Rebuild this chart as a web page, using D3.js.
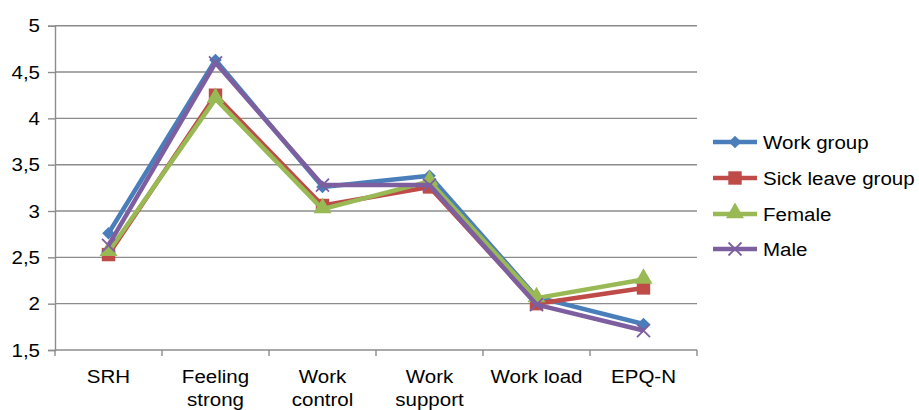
<!DOCTYPE html>
<html>
<head>
<meta charset="utf-8">
<script src="https://cdn.jsdelivr.net/npm/d3@7"></script>
<style>
  body { margin: 0; background: #fff; }
  text { font-family: "Liberation Sans", Arial, sans-serif; fill: #000; }
</style>
</head>
<body>
<div id="container"></div>
<script>
// values
var categories = ["SRH", "Feeling strong", "Work control", "Work support", "Work load", "EPQ-N"];
var categoryLines = [["SRH"], ["Feeling", "strong"], ["Work", "control"], ["Work", "support"], ["Work load"], ["EPQ-N"]];
var workGroup = [2.76, 4.63, 3.26, 3.38, 2.07, 1.78];
var sickLeave = [2.53, 4.25, 3.06, 3.26, 2.0, 2.17];
var female = [2.56, 4.21, 3.02, 3.32, 2.06, 2.26];
var male = [2.63, 4.6, 3.28, 3.28, 1.99, 1.71];
var seriesNames = ["Work group", "Sick leave group", "Female", "Male"];
var yTicks = [1.5, 2, 2.5, 3, 3.5, 4, 4.5, 5];

var colors = ["#4a7ebb", "#be4b48", "#98b954", "#7d5fa0"];
var symbols = ["diamond", "square", "triangle", "cross"];
var allSeries = [workGroup, sickLeave, female, male];

var width = 919, height = 410;
var plotLeft = 55, plotRight = 697, plotTop = 25.7, plotBottom = 350;
var fontSize = "19px";
var stretch = 1.08; // glyphs in the reference are a bit wider than tall

var svg = d3.select("#container").append("svg")
  .attr("width", width)
  .attr("height", height);

var x = d3.scaleBand().domain(categories).range([plotLeft, plotRight]);
var y = d3.scaleLinear().domain([1.5, 5]).range([plotBottom, plotTop]);
var fmt = function (v) { return String(v).replace(".", ","); };

// text placed at (tx, ty), stretched horizontally around its anchor
function addText(parent, tx, ty, anchor) {
  return parent.append("text")
    .attr("transform", "translate(" + tx + "," + ty + ") scale(" + stretch + ",1)")
    .attr("text-anchor", anchor)
    .style("font-size", fontSize);
}

// gridlines
svg.append("g")
  .selectAll("line")
  .data(yTicks.slice(1))
  .enter()
  .append("line")
  .attr("x1", plotLeft)
  .attr("x2", plotRight)
  .attr("y1", (d) => y(d))
  .attr("y2", (d) => y(d))
  .attr("stroke", "#8c8c8c")
  .attr("stroke-width", 1.4);

// y axis
var yAxis = d3.axisLeft(y).tickValues(yTicks).tickFormat("").tickSize(7);
var yAxisG = svg.append("g")
  .attr("transform", "translate(" + plotLeft + ",0)")
  .call(yAxis);
yAxisG.select(".domain").attr("stroke", "#8c8c8c").attr("stroke-width", 1.4);
yAxisG.selectAll(".tick line").attr("stroke", "#8c8c8c").attr("stroke-width", 1.4);
yTicks.forEach(function (t) {
  addText(svg, plotLeft - 15, y(t) + 6.5, "end").text(fmt(t));
});

// x axis
var xAxisG = svg.append("g");
xAxisG.append("line")
  .attr("x1", plotLeft).attr("x2", plotRight)
  .attr("y1", plotBottom).attr("y2", plotBottom)
  .attr("stroke", "#8c8c8c").attr("stroke-width", 1.4);
var boundaries = categories.map((c) => x(c)).concat([x(categories[categories.length - 1]) + x.bandwidth()]);
xAxisG.selectAll(".xt")
  .data(boundaries)
  .enter()
  .append("line")
  .attr("class", "xt")
  .attr("x1", (d) => d).attr("x2", (d) => d)
  .attr("y1", plotBottom).attr("y2", plotBottom + 6)
  .attr("stroke", "#8c8c8c").attr("stroke-width", 1.4);

categories.forEach(function (c, i) {
  var t = addText(xAxisG, x(c) + x.bandwidth() / 2, 383, "middle");
  categoryLines[i].forEach(function (ln, j) {
    t.append("tspan")
      .attr("x", 0)
      .attr("dy", j === 0 ? 0 : 23)
      .text(ln);
  });
});

// series
var line = d3.line()
  .x((d, i) => x(categories[i]) + x.bandwidth() / 2)
  .y((d) => y(d));

function drawMarker(g, kind, color, cx, cy) {
  if (kind === "diamond") {
    g.append("path")
      .attr("d", d3.symbol().type(d3.symbolSquare).size(80)())
      .attr("transform", "translate(" + cx + "," + cy + ") rotate(45)")
      .attr("fill", color);
  } else if (kind === "square") {
    g.append("path")
      .attr("d", d3.symbol().type(d3.symbolSquare).size(180)())
      .attr("transform", "translate(" + cx + "," + cy + ")")
      .attr("fill", color);
  } else if (kind === "triangle") {
    g.append("path")
      .attr("d", d3.symbol().type(d3.symbolTriangle).size(140)())
      .attr("transform", "translate(" + cx + "," + (cy - 1) + ")")
      .attr("fill", color);
  } else {
    g.append("path")
      .attr("d", "M-6.5,-6.5L6.5,6.5M-6.5,6.5L6.5,-6.5")
      .attr("transform", "translate(" + cx + "," + cy + ")")
      .attr("stroke", color)
      .attr("stroke-width", 1.8)
      .attr("fill", "none");
  }
}

allSeries.forEach(function (vals, s) {
  var g = svg.append("g");
  g.append("path")
    .datum(vals)
    .attr("d", line)
    .attr("fill", "none")
    .attr("stroke", colors[s])
    .attr("stroke-width", 4.5)
    .attr("stroke-linejoin", "round");
  vals.forEach(function (v, i) {
    drawMarker(g, symbols[s], colors[s], x(categories[i]) + x.bandwidth() / 2, y(v));
  });
});

// legend
var legendY = [142, 178, 214, 249];
seriesNames.forEach(function (name, s) {
  var g = svg.append("g");
  g.append("line")
    .attr("x1", 713).attr("x2", 757)
    .attr("y1", legendY[s]).attr("y2", legendY[s])
    .attr("stroke", colors[s]).attr("stroke-width", 4.5);
  drawMarker(g, symbols[s], colors[s], 735, legendY[s]);
  addText(g, 763, legendY[s] + 7, "start").text(name);
});
</script>
</body>
</html>
